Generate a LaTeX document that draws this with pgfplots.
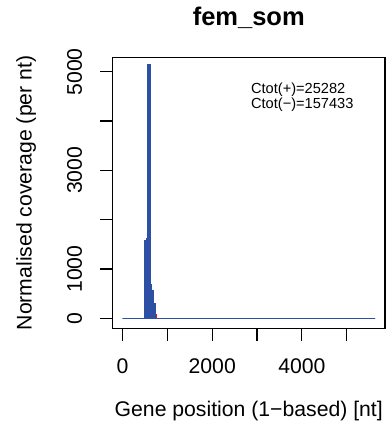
\documentclass[border=0pt]{standalone}
\usepackage{fontspec}
\setmainfont{Liberation Sans}
\usepackage{pgfplots}
\pgfplotsset{compat=1.18}
\definecolor{covblue}{RGB}{45,80,165}
\definecolor{covred}{RGB}{235,20,30}
\begin{document}
\begin{tikzpicture}
\useasboundingbox (-112.5bp,-105.5bp) rectangle (277.5bp,328.5bp);
\begin{axis}[
  at={(0,0)}, anchor=south west,
  width=272.5bp, height=271.2bp, scale only axis,
  xmin=-225, xmax=5855, ymin=-207, ymax=5294,
  axis lines=box,
  xtick={0,1000,2000,3000,4000,5000},
  xticklabels={0,,2000,,4000,},
  ytick={0,1000,2000,3000,4000,5000},
  yticklabels={0,1000,,3000,,5000},
  xtick pos=bottom, ytick pos=left, tick align=outside,
  major tick length=12bp,
  major tick style={black, line width=1.2bp},
  axis line style={black, line width=1.6bp},
  /pgf/number format/assume math mode=true,
  tick label style={font=\fontsize{21.2bp}{25bp}\selectfont, inner sep=0pt},
  xticklabel style={anchor=north, yshift=-17.5bp},
  yticklabel style={xshift=-18.3bp, rotate=90, anchor=south},
  title={fem\_som},
  title style={font=\bfseries\fontsize{25.5bp}{30bp}\selectfont, at={(axis description cs:0.5,1.097)}, anchor=base, inner sep=0pt},
  xlabel={Gene position (1−based) [nt]},
  xlabel style={font=\fontsize{21.2bp}{25bp}\selectfont, at={(axis description cs:0.5,-0.3252)}, anchor=base, inner sep=0pt},
  ylabel={Normalised coverage (per nt)},
  ylabel style={font=\fontsize{21.2bp}{25bp}\selectfont, at={(axis description cs:-0.2965,0.5)}, anchor=base, inner sep=0pt},
]
\addplot[covred, line width=1bp, const plot, fill=covred] coordinates {
  (1,0) (728,85) (760,0) (5632,0)
} \closedcycle;
\addplot[covblue, line width=0.9bp, const plot, fill=covblue] coordinates {
  (1,0) (498,1580) (530,1620) (565,5150) (620,0) (628,680) (636,0) (647,555) (699,310) (728,0) (5632,0)
} \closedcycle;
\node[anchor=base west, font=\fontsize{14.6bp}{17bp}\selectfont, inner sep=0pt] at (axis description cs:0.508,0.8647) {Ctot(+)=25282};
\node[anchor=base west, font=\fontsize{14.6bp}{17bp}\selectfont, inner sep=0pt] at (axis description cs:0.508,0.8094) {Ctot(−)=157433};
\end{axis}
\end{tikzpicture}
\end{document}
